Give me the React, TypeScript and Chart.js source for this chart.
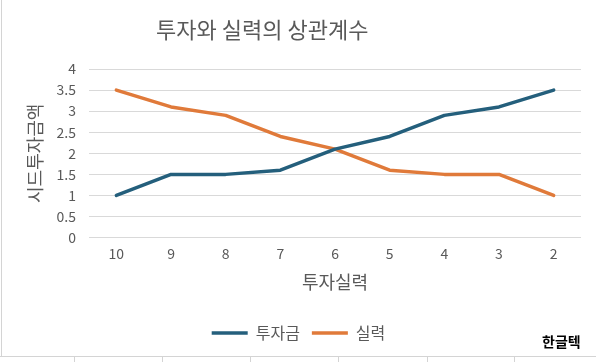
import React, { useEffect, useRef } from "react";
import { Chart, registerables } from "chart.js";

Chart.register(...registerables);

const categories = ["10", "9", "8", "7", "6", "5", "4", "3", "2"];
const investment = [1, 1.5, 1.5, 1.6, 2.1, 2.4, 2.9, 3.1, 3.5];
const skill = [3.5, 3.1, 2.9, 2.4, 2.1, 1.6, 1.5, 1.5, 1];
const seriesNames = ["투자금", "실력"];
const colors = ["#245F7C", "#E07A3A"];
const titleText = "투자와 실력의 상관계수";
const xTitle = "투자실력";
const yTitle = "시드투자금액";
const watermark = "한글텍";
const cellTicks = [74, 162, 250, 338, 427, 514];

const FONT = "'Noto Sans CJK KR', 'Noto Sans', sans-serif";
const GRAY = "#595959";

const titlePlugin = {
  id: "offsetTitle",
  afterDraw(chart: any) {
    const ctx = chart.ctx;
    ctx.save();
    ctx.font = `22px ${FONT}`;
    ctx.fillStyle = GRAY;
    ctx.textAlign = "center";
    ctx.textBaseline = "middle";
    ctx.fillText(titleText, chart.width * 0.44, 30);
    ctx.restore();
  },
};

export default function App() {
  const ref = useRef<HTMLCanvasElement | null>(null);

  useEffect(() => {
    if (!ref.current) return;
    const mk = (i: number, data: number[]) => ({
      label: seriesNames[i],
      data,
      borderColor: colors[i],
      backgroundColor: colors[i],
      borderWidth: 3.5,
      pointRadius: 0,
      pointStyle: "line" as const,
      borderCapStyle: "round" as const,
      borderJoinStyle: "round" as const,
    });
    const chart = new Chart(ref.current, {
      type: "line",
      data: {
        labels: categories,
        datasets: [mk(0, investment), mk(1, skill)],
      },
      plugins: [titlePlugin],
      options: {
        responsive: false,
        animation: false,
        layout: { padding: { left: 16, right: 15, top: 69, bottom: 11 } },
        plugins: {
          legend: {
            position: "bottom",
            labels: {
              color: GRAY,
              font: { family: FONT, size: 16 },
              usePointStyle: true,
              pointStyleWidth: 36,
              boxHeight: 4,
              padding: 12,
            },
          },
          tooltip: { enabled: false },
        },
        scales: {
          x: {
            offset: true,
            grid: { display: false, drawTicks: false },
            border: { display: false },
            ticks: { color: GRAY, font: { family: FONT, size: 14 }, padding: 8 },
            title: {
              display: true,
              text: xTitle,
              color: GRAY,
              font: { family: FONT, size: 18 },
              padding: { top: 1, bottom: 20 },
            },
          },
          y: {
            min: 0,
            max: 4,
            grid: { color: "#D9D9D9", drawTicks: false },
            border: { display: false },
            ticks: {
              stepSize: 0.5,
              color: GRAY,
              font: { family: FONT, size: 14 },
              padding: 13,
              callback: (v: any) => String(v),
            },
            title: {
              display: true,
              text: yTitle,
              color: GRAY,
              font: { family: FONT, size: 18 },
              padding: { top: 8, bottom: -2 },
            },
          },
        },
      },
    });
    return () => chart.destroy();
  }, []);

  return (
    <div
      style={{
        position: "fixed",
        left: 0,
        top: 0,
        width: 596,
        height: 362,
        background: "#fff",
        overflow: "hidden",
      }}
    >
      <canvas ref={ref} width={596} height={362} style={{ position: "absolute", left: 0, top: 0 }} />
      <div style={{ position: "absolute", left: 1, top: 0, width: 1, height: 357, background: "#D4D4D4" }} />
      <div style={{ position: "absolute", left: 0, top: 356, width: 596, height: 1, background: "#D4D4D4" }} />
      {cellTicks.map((x) => (
        <div key={x} style={{ position: "absolute", left: x, top: 357, width: 1, height: 5, background: "#D4D4D4" }} />
      ))}
      <div
        style={{
          position: "absolute",
          left: 542,
          top: 331,
          fontFamily: FONT,
          fontWeight: 700,
          fontSize: 14,
          color: "#000",
        }}
      >
        {watermark}
      </div>
    </div>
  );
}
